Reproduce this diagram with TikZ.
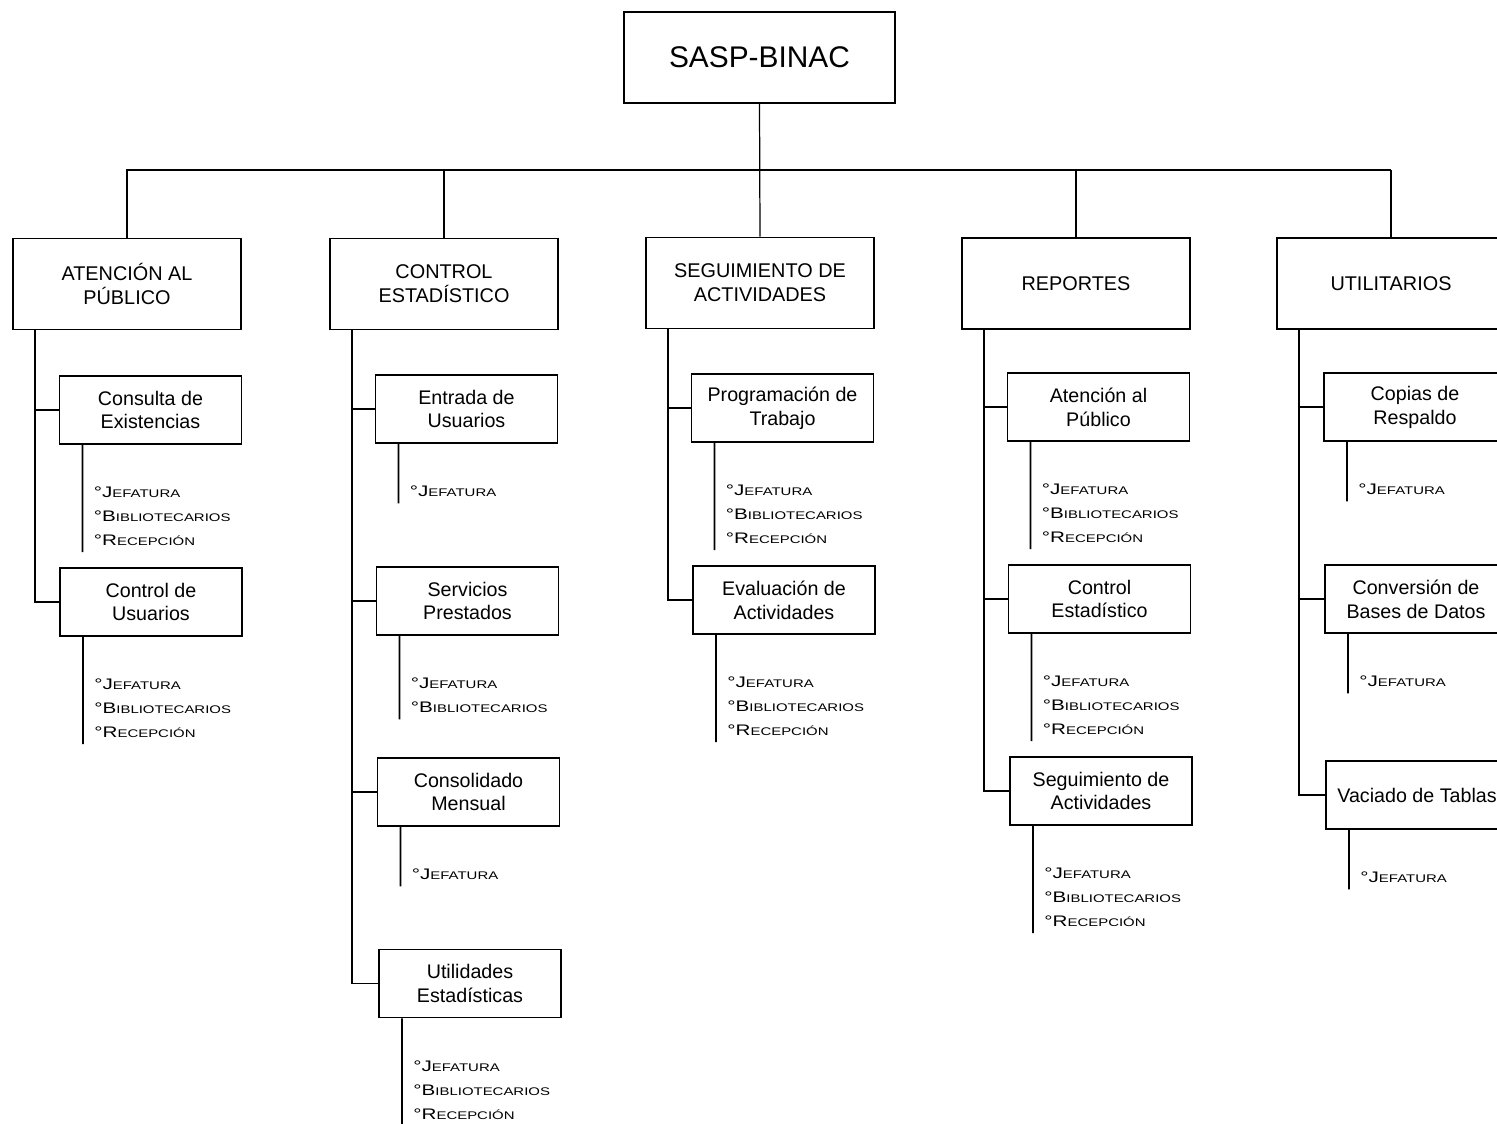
\documentclass[tikz,border=0pt]{standalone}
\usepackage{fontspec}
\setmainfont{Liberation Sans}
\newfontfamily\copperfont[FakeStretch=1.35]{Liberation Sans}
\newcommand{\rolitem}[2]{°#1{\fontsize{6.3}{13.6}\selectfont #2}}
\newcommand{\jefe}{\rolitem{J}{EFATURA}}
\newcommand{\biblio}{\rolitem{B}{IBLIOTECARIOS}}
\newcommand{\recep}{\rolitem{R}{ECEPCIÓN}}

\begin{document}
\begin{tikzpicture}[x=0.02cm, y=-0.02cm,
	topbox/.style={draw, line width=1.1pt, minimum width=5.42cm, minimum height=1.82cm, font=\fontsize{17}{20}\selectfont},
	areabox/.style={draw, line width=1.1pt, minimum width=4.56cm, minimum height=1.82cm, align=center, font=\fontsize{11.3}{13.6}\selectfont},
	taskbox/.style={draw, line width=1.1pt, minimum width=3.64cm, minimum height=1.36cm, align=center, font=\fontsize{11.2}{13.6}\selectfont},
	rollist/.style={anchor=north west, inner sep=0pt, align=left, font=\copperfont\fontsize{8.7}{13.6}\selectfont},
	bus/.style={line width=0.7pt},
	listline/.style={line width=1pt}]

	\useasboundingbox (0,0) rectangle (1497,1123);

	\node[topbox] (sasp) at (759.5,57.5) {SASP-BINAC};

	% areas
	\node[areabox] (atp) at (127,284) {ATENCIÓN AL\\PÚBLICO};
	\node[areabox] (ctl) at (444,284) {CONTROL\\ESTADÍSTICO};
	\node[areabox] (seg) at (760,283) {SEGUIMIENTO DE\\ACTIVIDADES};
	\node[areabox] (rep) at (1076,283.5) {REPORTES};
	\node[areabox] (utl) at (1391,283.5) {UTILITARIOS};

	\coordinate (bus-l) at (126,170);
	\coordinate (bus-r) at (1391,170);
	\draw[bus] (bus-l) -- (bus-r);
	\draw[bus] (sasp.south) -- (seg.north);
	\foreach \n in {atp,ctl,rep,utl}
		\draw[bus] (\n.north) -- (\n.north |- bus-l);

	% tasks
	\node[taskbox] (atp-cons) at (150.5,410) {Consulta de\\Existencias};
	\node[taskbox] (atp-usr) at (151,602) {Control de\\Usuarios};
	\node[taskbox] (ctl-ent) at (466.5,409) {Entrada de\\Usuarios};
	\node[taskbox] (ctl-serv) at (467.5,601) {Servicios\\Prestados};
	\node[taskbox] (ctl-cons) at (468.5,792) {Consolidado\\Mensual};
	\node[taskbox] (ctl-util) at (470,983.5) {Utilidades\\Estadísticas};
	\node[taskbox] (seg-prog) at (782.5,408) {Programación de\\Trabajo};
	\node[taskbox] (seg-eval) at (784,600) {Evaluación de\\Actividades};
	\node[taskbox] (rep-atp) at (1098.5,407) {Atención al\\Público};
	\node[taskbox] (rep-ctl) at (1099.5,599) {Control\\Estadístico};
	\node[taskbox] (rep-seg) at (1101,791) {Seguimiento de\\Actividades};
	\node[taskbox] (utl-cop) at (1415,407) {Copias de\\Respaldo};
	\node[taskbox] (utl-conv) at (1416,599) {Conversión de\\Bases de Datos};
	\node[taskbox] (utl-vac) at (1417,795) {Vaciado de Tablas};

	\foreach \p/\c in {atp/atp-cons, atp/atp-usr, ctl/ctl-ent, ctl/ctl-serv, ctl/ctl-cons, ctl/ctl-util,
		seg/seg-prog, seg/seg-eval, rep/rep-atp, rep/rep-ctl, rep/rep-seg, utl/utl-cop, utl/utl-conv, utl/utl-vac}
		\draw[bus] ([xshift=0.46cm]\p.south west) |- (\c.west);

	% users
	\node[rollist] (atp-cons-r) at ([xshift=0.7cm,yshift=-0.84cm]atp-cons.south west) {\jefe\\\biblio\\\recep};
	\node[rollist] (atp-usr-r) at ([xshift=0.7cm,yshift=-0.84cm]atp-usr.south west) {\jefe\\\biblio\\\recep};
	\node[rollist] (ctl-ent-r) at ([xshift=0.7cm,yshift=-0.84cm]ctl-ent.south west) {\jefe};
	\node[rollist] (ctl-serv-r) at ([xshift=0.7cm,yshift=-0.84cm]ctl-serv.south west) {\jefe\\\biblio};
	\node[rollist] (ctl-cons-r) at ([xshift=0.7cm,yshift=-0.84cm]ctl-cons.south west) {\jefe};
	\node[rollist] (ctl-util-r) at ([xshift=0.7cm,yshift=-0.84cm]ctl-util.south west) {\jefe\\\biblio\\\recep};
	\node[rollist] (seg-prog-r) at ([xshift=0.7cm,yshift=-0.84cm]seg-prog.south west) {\jefe\\\biblio\\\recep};
	\node[rollist] (seg-eval-r) at ([xshift=0.7cm,yshift=-0.84cm]seg-eval.south west) {\jefe\\\biblio\\\recep};
	\node[rollist] (rep-atp-r) at ([xshift=0.7cm,yshift=-0.84cm]rep-atp.south west) {\jefe\\\biblio\\\recep};
	\node[rollist] (rep-ctl-r) at ([xshift=0.7cm,yshift=-0.84cm]rep-ctl.south west) {\jefe\\\biblio\\\recep};
	\node[rollist] (rep-seg-r) at ([xshift=0.7cm,yshift=-0.84cm]rep-seg.south west) {\jefe\\\biblio\\\recep};
	\node[rollist] (utl-cop-r) at ([xshift=0.7cm,yshift=-0.84cm]utl-cop.south west) {\jefe};
	\node[rollist] (utl-conv-r) at ([xshift=0.7cm,yshift=-0.84cm]utl-conv.south west) {\jefe};
	\node[rollist] (utl-vac-r) at ([xshift=0.7cm,yshift=-0.84cm]utl-vac.south west) {\jefe};

	\foreach \c in {atp-cons, atp-usr, ctl-ent, ctl-serv, ctl-cons, ctl-util, seg-prog, seg-eval,
		rep-atp, rep-ctl, rep-seg, utl-cop, utl-conv, utl-vac}
		\draw[listline] ([xshift=0.48cm]\c.south west) -- ([xshift=-0.22cm,yshift=-0.12cm]\c-r.south west);

\end{tikzpicture}
\end{document}
